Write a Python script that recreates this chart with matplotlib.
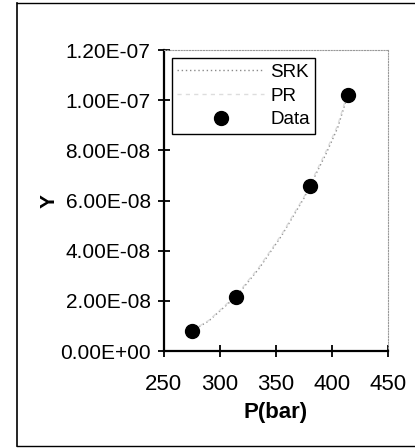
import matplotlib.pyplot as plt
from matplotlib.lines import Line2D
from matplotlib.ticker import FuncFormatter, MultipleLocator

FONT = "Liberation Sans"

# measured solubility data
p_data = [275, 314, 380, 414]
y_data = [0.80e-8, 2.16e-8, 6.57e-8, 1.02e-7]

# model curves
p_srk = [275, 290, 315, 335, 355, 375, 395, 405, 414]
y_srk = [0.80e-8, 1.20e-8, 2.20e-8, 3.30e-8, 4.60e-8, 6.10e-8, 7.90e-8, 8.90e-8, 1.02e-7]
p_pr = [275, 290, 315, 335, 355, 375, 395, 405, 414]
y_pr = [0.82e-8, 1.22e-8, 2.25e-8, 3.35e-8, 4.65e-8, 6.15e-8, 8.00e-8, 9.00e-8, 1.03e-7]

xticks = [250, 300, 350, 400, 450]

fig = plt.figure(figsize=(4.15, 4.48), dpi=100)
ax = fig.add_axes([0.395, 0.2165, 0.54, 0.6715])

ax.plot(p_srk, y_srk, color="#8a8a8a", lw=1.0, ls=(0, (1, 2)), label="SRK")
ax.plot(p_pr, y_pr, color="#dddddd", lw=1.0, ls=(0, (3, 3)), label="PR")
ax.plot(p_data, y_data, "o", color="black", ms=10, label="Data", zorder=5)

ax.set_xlim(250, 450)
ax.set_ylim(0, 1.2e-7)
ax.set_xticks(xticks)
ax.yaxis.set_major_locator(MultipleLocator(2e-8))
ax.yaxis.set_major_formatter(FuncFormatter(lambda v, _: "%.2E" % v))

for side in ("left", "bottom"):
    ax.spines[side].set_linewidth(1.6)
    ax.spines[side].set_color("black")
for side in ("top", "right"):
    ax.spines[side].set_linewidth(0.8)
    ax.spines[side].set_color("#999999")
    ax.spines[side].set_linestyle((0, (1, 1.5)))

ax.tick_params(direction="inout", length=9, width=1.3)
ax.tick_params(axis="x", pad=12, labelsize=16)
ax.tick_params(axis="y", pad=5, labelsize=15)
for lab in ax.get_xticklabels() + ax.get_yticklabels():
    lab.set_fontfamily(FONT)

ax.set_xlabel("P(bar)", fontsize=16, fontweight="bold", fontfamily=FONT, labelpad=5)
ax.set_ylabel("Y", fontsize=15, fontweight="bold", fontfamily=FONT, labelpad=1)

leg = ax.legend(loc="upper left", bbox_to_anchor=(0.035, 0.973), borderaxespad=0,
                handlelength=4.6, frameon=True, fancybox=False, edgecolor="black",
                framealpha=1, prop={"family": FONT, "size": 13.5}, borderpad=0.3,
                labelspacing=0.35, handletextpad=0.35, markerfirst=True)
leg.get_frame().set_linewidth(1.0)

# outer chart-area border (left, top, bottom)
fig.add_artist(Line2D([0.04, 0.04], [0.005, 0.993], color="black", lw=1.2))
fig.add_artist(Line2D([0.04, 1.0], [0.993, 0.993], color="black", lw=1.0))
fig.add_artist(Line2D([0.04, 1.0], [0.005, 0.005], color="black", lw=1.0))

fig.savefig("out.png", dpi=100)
